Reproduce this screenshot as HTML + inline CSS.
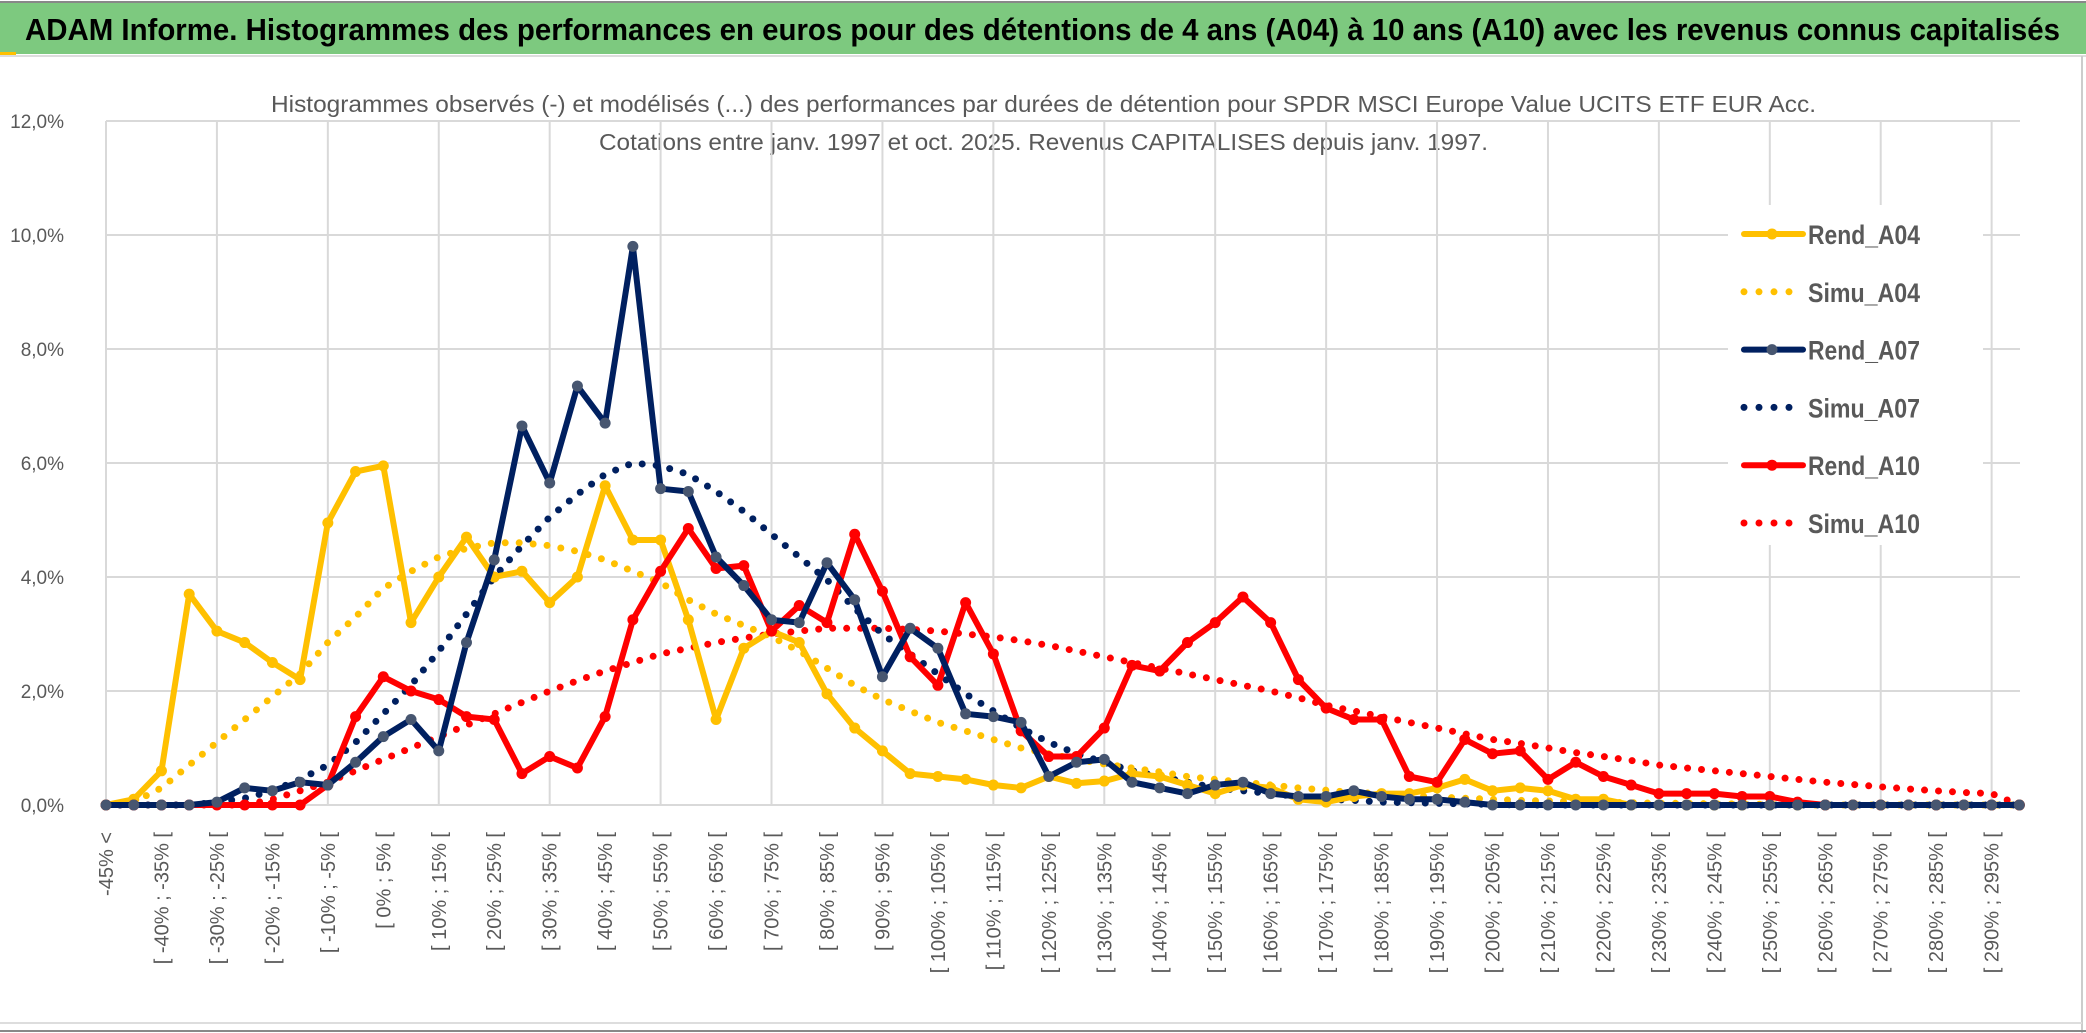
<!DOCTYPE html>
<html><head><meta charset="utf-8"><style>
html,body{margin:0;padding:0;background:#fff;}
svg{display:block;font-family:"Liberation Sans",sans-serif;}
</style></head><body>
<svg id="chart" width="2086" height="1033" viewBox="0 0 2086 1033">
<rect x="0" y="0" width="2086" height="1033" fill="#fff"/>
<rect x="0" y="2" width="2086" height="52" fill="#7DC97F"/>
<line x1="0" y1="2" x2="2086" y2="2" stroke="#888" stroke-width="2"/>
<rect x="0" y="52" width="16" height="3" fill="#FFC000"/>
<line x1="0" y1="56" x2="2086" y2="56" stroke="#ddd" stroke-width="2"/>
<text x="25" y="40" font-size="31" font-weight="bold" fill="#000" textLength="2035" lengthAdjust="spacingAndGlyphs">ADAM Informe. Histogrammes des performances en euros pour des détentions de 4 ans (A04) à 10 ans (A10) avec les revenus connus capitalisés</text>
<text x="271" y="112" font-size="23" fill="#595959" textLength="1545" lengthAdjust="spacingAndGlyphs">Histogrammes observés (-) et modélisés (...) des performances par durées de détention pour SPDR MSCI Europe Value UCITS ETF EUR Acc.</text>
<text x="599" y="150" font-size="23" fill="#595959" textLength="889" lengthAdjust="spacingAndGlyphs">Cotations entre janv. 1997 et oct. 2025. Revenus CAPITALISES depuis janv. 1997.</text>
<line x1="2082" y1="56" x2="2082" y2="1033" stroke="#ccc" stroke-width="2"/>
<line x1="0" y1="1023" x2="2082" y2="1023" stroke="#ddd" stroke-width="2"/>
<line x1="0" y1="1031" x2="2086" y2="1031" stroke="#888" stroke-width="2"/>
<g id="grid"></g>
<g id="ylabels"></g>
<g id="xlabels"></g>
<g id="series"></g>
<g id="legend"></g>
</svg>
<script>
const categories = (function(){const c=["-45% <"];for(let i=1;i<70;i++){const a=-50+5*i;c.push("[ "+a+"% ; "+(a+5)+"% [");}return c;})();
const yTicks = [0,2,4,6,8,10,12];
const yTickLabels = ["0,0%","2,0%","4,0%","6,0%","8,0%","10,0%","12,0%"];
const rendA04 = [0,0.1,0.6,3.7,3.05,2.85,2.5,2.2,4.95,5.85,5.95,3.2,4.0,4.7,4.0,4.1,3.55,4.0,5.6,4.65,4.65,3.25,1.5,2.75,3.05,2.85,1.95,1.35,0.95,0.55,0.5,0.45,0.35,0.3,0.5,0.38,0.42,0.55,0.5,0.35,0.2,0.35,0.3,0.1,0.05,0.15,0.2,0.2,0.3,0.45,0.25,0.3,0.25,0.1,0.1,0,0,0,0,0,0,0,0,0,0,0,0,0,0,0];
const simuA04 = [0,0.05,0.3,0.7,1.1,1.5,1.9,2.3,2.85,3.3,3.8,4.1,4.35,4.5,4.6,4.6,4.55,4.45,4.3,4.1,3.9,3.6,3.35,3.15,2.95,2.7,2.4,2.1,1.85,1.65,1.45,1.3,1.15,1.0,0.9,0.8,0.72,0.65,0.58,0.5,0.45,0.4,0.35,0.3,0.26,0.22,0.2,0.17,0.14,0.12,0.1,0.08,0.07,0.06,0.05,0.04,0.03,0.03,0.02,0.02,0.01,0,0,0,0,0,0,0,0,0];
const rendA07 = [0,0,0,0,0.05,0.3,0.25,0.4,0.35,0.75,1.2,1.5,0.95,2.85,4.3,6.65,5.65,7.35,6.7,9.8,5.55,5.5,4.35,3.85,3.25,3.2,4.25,3.6,2.25,3.1,2.75,1.6,1.55,1.45,0.5,0.75,0.8,0.4,0.3,0.2,0.35,0.4,0.2,0.15,0.15,0.25,0.15,0.1,0.1,0.05,0,0,0,0,0,0,0,0,0,0,0,0,0,0,0,0,0,0,0,0];
const simuA07 = [0,0,0,0,0.05,0.12,0.25,0.45,0.7,1.1,1.6,2.1,2.7,3.35,4.0,4.55,5.05,5.45,5.8,6.0,5.95,5.8,5.5,5.15,4.75,4.35,3.95,3.45,3.0,2.65,2.3,1.95,1.65,1.35,1.1,0.9,0.75,0.6,0.5,0.4,0.3,0.25,0.2,0.15,0.1,0.08,0.05,0.04,0.03,0.02,0.01,0,0,0,0,0,0,0,0,0,0,0,0,0,0,0,0,0,0,0];
const rendA10 = [0,0,0,0,0,0,0,0,0.35,1.55,2.25,2.0,1.85,1.55,1.5,0.55,0.85,0.65,1.55,3.25,4.1,4.85,4.15,4.2,3.05,3.5,3.2,4.75,3.75,2.6,2.1,3.55,2.65,1.3,0.85,0.85,1.35,2.45,2.35,2.85,3.2,3.65,3.2,2.2,1.7,1.5,1.5,0.5,0.4,1.15,0.9,0.95,0.45,0.75,0.5,0.35,0.2,0.2,0.2,0.15,0.15,0.05,0,0,0,0,0,0,0,0];
const simuA10 = [0,0,0,0,0,0,0.1,0.25,0.4,0.6,0.8,1.0,1.2,1.4,1.6,1.8,2.0,2.18,2.35,2.5,2.65,2.75,2.85,2.93,3.0,3.05,3.1,3.1,3.1,3.08,3.05,3.0,2.95,2.88,2.8,2.7,2.6,2.5,2.4,2.3,2.2,2.1,2.0,1.88,1.75,1.65,1.55,1.45,1.35,1.25,1.15,1.08,1.0,0.92,0.85,0.78,0.7,0.65,0.6,0.55,0.5,0.45,0.4,0.36,0.32,0.28,0.25,0.22,0.2,0];

const NS="http://www.w3.org/2000/svg";
const X0=106, DX=27.73, Y0=805, PY=57, XR=2020;
function xPos(i){return X0+i*DX;}
function yPos(v){return Y0-v*PY;}
function mk(tag,attrs,parent){const e=document.createElementNS(NS,tag);for(const k in attrs)e.setAttribute(k,attrs[k]);parent.appendChild(e);return e;}

const grid=document.getElementById('grid');
yTicks.forEach(function(t,k){
  const l=mk('line',{x1:X0,x2:XR,y1:yPos(t),y2:yPos(t),stroke:'#d9d9d9','stroke-width':2},grid);
  
  
  const tx=mk('text',{x:64,y:yPos(t)+7,'font-size':19,fill:'#595959','text-anchor':'end'},document.getElementById('ylabels'));
  tx.textContent=yTickLabels[k];
  
  
});
for(let i=0;i<categories.length;i+=4){
  const l=mk('line',{x1:xPos(i),x2:xPos(i),y1:yPos(12),y2:Y0,stroke:'#d9d9d9','stroke-width':2},grid);
  
  
}
const xl=document.getElementById('xlabels');
for(let i=0;i<categories.length;i+=2){
  const x=xPos(i)+7, y=832;
  const t=mk('text',{x:x,y:y,'font-size':20,fill:'#595959','text-anchor':'end',transform:'rotate(-90 '+x+' '+y+')'},xl);
  t.textContent=categories[i];
  
  
}
const seriesG=document.getElementById('series');
function pts(arr){return arr.map(function(v,i){return xPos(i).toFixed(1)+','+yPos(v).toFixed(1);}).join(' ');}
function dotted(arr,color,name){
  const p=mk('polyline',{points:pts(arr),fill:'none',stroke:color,'stroke-width':7,'stroke-linecap':'round','stroke-dasharray':'0 14'},seriesG);
  
  
}
function solid(arr,color,mcolor,name){
  const g=mk('g',{},seriesG);
  
  
  mk('polyline',{points:pts(arr),fill:'none',stroke:color,'stroke-width':6,'stroke-linejoin':'round'},g);
  arr.forEach(function(v,i){
    const c=mk('circle',{cx:xPos(i),cy:yPos(v),r:5.5,fill:mcolor},g);
    
    
  });
}
dotted(simuA10,'#FF0000','simu-a10-line');
dotted(simuA07,'#002060','simu-a07-line');
dotted(simuA04,'#FFC000','simu-a04-line');
solid(rendA04,'#FFC000','#FFC000','rend-a04-line');
solid(rendA10,'#FF0000','#FF0000','rend-a10-line');
solid(rendA07,'#002060','#475670','rend-a07-line');

const leg=document.getElementById('legend');
mk('rect',{x:1728,y:205,width:255,height:340,fill:'#fff'},leg);
const legendItems=[["Rend_A04","#FFC000","#FFC000",false],["Simu_A04","#FFC000","",true],["Rend_A07","#002060","#475670",false],["Simu_A07","#002060","",true],["Rend_A10","#FF0000","#FF0000",false],["Simu_A10","#FF0000","",true]];
legendItems.forEach(function(it,k){
  const y=234+k*57.8;
  const g=mk('g',{},leg);
  
  
  if(it[3]){
    mk('line',{x1:1744,x2:1800,y1:y,y2:y,stroke:it[1],'stroke-width':7,'stroke-linecap':'round','stroke-dasharray':'0 15'},g);
  } else {
    mk('line',{x1:1744,x2:1803,y1:y,y2:y,stroke:it[1],'stroke-width':6,'stroke-linecap':'round'},g);
    mk('circle',{cx:1772,cy:y,r:5.5,fill:it[2]},g);
  }
  const t=mk('text',{x:1808,y:y+10,'font-size':27,'font-weight':'bold',fill:'#595959',textLength:112,lengthAdjust:'spacingAndGlyphs'},g);
  t.textContent=it[0];
});
</script>
</body></html>
